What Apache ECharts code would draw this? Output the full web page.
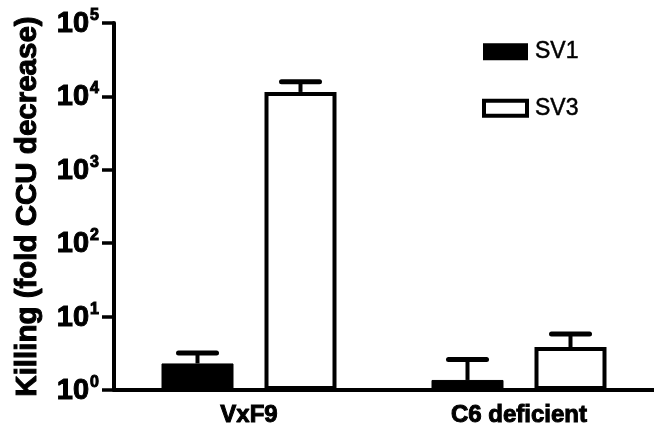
<!DOCTYPE html>
<html>
<head>
<meta charset="utf-8">
<script src="https://cdn.jsdelivr.net/npm/echarts@6/dist/echarts.min.js"></script>
<style>html,body{margin:0;padding:0;background:#fff}#c{width:654px;height:439px}</style>
</head>
<body>
<div id="c"></div>
<script>
var categories = ['VxF9', 'C6 deficient'];
var seriesNames = ['SV1', 'SV3'];
var sv1Values = [2.3, 1.37];
var sv3Values = [11500, 3.85];
var sv1ErrTop = [3.2, 2.6];
var sv3ErrTop = [15800, 5.8];
var yTickExponents = [0, 1, 2, 3, 4, 5];

var BAR_W = 72, GAP = 31;
var OFF = (BAR_W + GAP) / 2;
var FONT = '"Liberation Sans", Arial, Helvetica, sans-serif';

function errSeries(vals, tops, off) {
  return {
    type: 'custom',
    z: 10,
    silent: true,
    data: vals.map(function (v, i) { return [i, v, tops[i]]; }),
    renderItem: function (params, api) {
      var p0 = api.coord([api.value(0), api.value(1)]);
      var p1 = api.coord([api.value(0), api.value(2)]);
      var x = p0[0] + off;
      return {
        type: 'group',
        children: [
          { type: 'line', shape: { x1: x, y1: p0[1], x2: x, y2: p1[1] },
            style: { stroke: '#000', lineWidth: 4 } },
          { type: 'line', shape: { x1: x - 19, y1: p1[1], x2: x + 19, y2: p1[1] },
            style: { stroke: '#000', lineWidth: 5, lineCap: 'round' } }
        ]
      };
    }
  };
}

var heavy = { textBorderColor: '#000', textBorderWidth: 1 };

var chart = echarts.init(document.getElementById('c'));
chart.setOption({
  animation: false,
  backgroundColor: '#fff',
  grid: { left: 114, top: 23, width: 546, bottom: 49 },
  legend: {
    orient: 'vertical',
    left: 482, top: 40, padding: 0,
    icon: 'rect',
    itemWidth: 43, itemHeight: 15, itemGap: 33,
    textStyle: { fontFamily: FONT, fontSize: 23, color: '#000', padding: [0, 0, 0, 3],
                 textBorderColor: '#000', textBorderWidth: 0.5 },
    data: [
      { name: seriesNames[0] },
      { name: seriesNames[1], itemStyle: { color: '#fff', borderColor: '#000', borderWidth: 4 } }
    ]
  },
  xAxis: {
    type: 'category',
    data: categories,
    axisLine: { lineStyle: { color: '#000', width: 4 } },
    axisTick: { alignWithLabel: true, length: 7, lineStyle: { color: '#000', width: 3 } },
    axisLabel: Object.assign({ margin: 13, fontFamily: FONT, fontSize: 24, fontWeight: 'bold', color: '#000' }, heavy)
  },
  yAxis: {
    type: 'log',
    logBase: 10,
    min: 1,
    max: 100000,
    name: 'Killing (fold CCU decrease)',
    nameLocation: 'middle',
    nameGap: 71,
    nameTruncate: { maxWidth: 600 },
    nameTextStyle: Object.assign({ fontFamily: FONT, fontSize: 29.5, fontWeight: 'bold', color: '#000', width: 600, overflow: 'none' }, heavy),
    splitLine: { show: false },
    axisLine: { show: true, lineStyle: { color: '#000', width: 4 } },
    axisTick: { show: true, length: 12, lineStyle: { color: '#000', width: 3.5 } },
    axisLabel: {
      margin: 15,
      formatter: function (v) {
        var e = Math.round(Math.log10(v));
        return yTickExponents.indexOf(e) >= 0 ? '{a|10}{b|' + e + '}' : '';
      },
      rich: {
        a: Object.assign({ fontFamily: FONT, fontSize: 29, fontWeight: 'bold', color: '#000', verticalAlign: 'bottom' }, heavy),
        b: Object.assign({ fontFamily: FONT, fontSize: 16, fontWeight: 'bold', color: '#000', verticalAlign: 'bottom', padding: [0, 0, 15, 1] }, heavy)
      }
    }
  },
  series: [
    { name: 'SV1', type: 'bar', data: sv1Values, barWidth: BAR_W, barGap: (GAP / BAR_W * 100) + '%',
      itemStyle: { color: '#000', borderColor: '#000', borderWidth: 1 } },
    { name: 'SV3', type: 'bar', data: sv3Values, barWidth: BAR_W,
      itemStyle: { color: '#fff', borderColor: '#000', borderWidth: 4 } },
    errSeries(sv1Values, sv1ErrTop, -OFF),
    errSeries(sv3Values, sv3ErrTop, OFF)
  ]
});
</script>
</body>
</html>
